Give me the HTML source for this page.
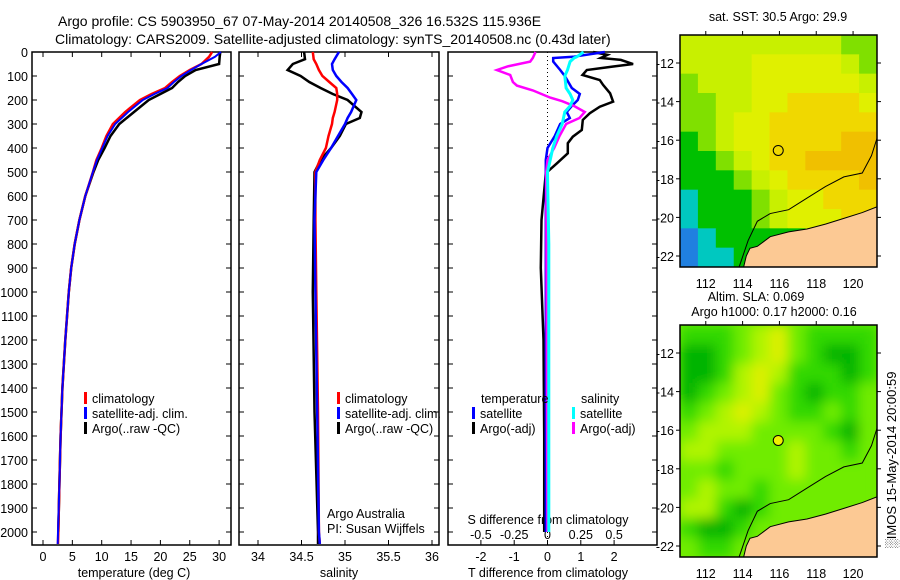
<!DOCTYPE html>
<html><head><meta charset="utf-8"><style>
body{margin:0;background:#fff;}
svg{display:block;font-family:"Liberation Sans",sans-serif;}
</style></head><body>
<svg id="fig" width="900" height="580" viewBox="0 0 900 580" xmlns="http://www.w3.org/2000/svg">
<defs><filter id="blur" x="-5%" y="-5%" width="110%" height="110%"><feGaussianBlur stdDeviation="6"/></filter></defs>
<text x="58" y="26" font-size="14">Argo profile: CS 5903950_67 07-May-2014 20140508_326 16.532S 115.936E</text>
<text x="55" y="44" font-size="14">Climatology: CARS2009. Satellite-adjusted climatology: synTS_20140508.nc (0.43d later)</text>
<g id="g"></g>
</svg>
<script>
// ---- data ----
const depthT = [0,20,50,75,100,125,150,175,200,250,300,350,400,450,500,600,700,800,900,1000,1200,1400,1600,1800,2000,2050];
const tempClim = [28.8,28.3,27,25,23.3,22,20.8,18.5,16.5,14,11.9,10.8,10,9.1,8.5,7.2,6.2,5.4,4.8,4.4,3.8,3.3,3.0,2.8,2.6,2.55];
const tempSat  = [30.3,29.3,27,25.2,23.6,22.3,21.2,19,17,14.5,12.3,11,10.1,9.2,8.5,7.2,6.2,5.4,4.8,4.4,3.8,3.3,3.0,2.8,2.55,2.5];
const tempArgo = [30.2,30.1,30.0,26,24.2,23,22,20,18,15.5,13,11.5,10.5,9.4,8.6,7.2,6.2,5.4,4.8,4.4,3.8,3.3,3.0,2.8,2.6,2.6];
const depthS = [0,30,50,75,100,125,150,175,200,250,275,300,350,400,450,500,700,1000,1500,2000,2050];
const salClim = [34.63,34.64,34.67,34.70,34.74,34.82,34.90,34.91,34.91,34.88,34.86,34.85,34.81,34.78,34.71,34.66,34.66,34.67,34.69,34.70,34.71];
const salSat  = [34.93,34.88,34.85,34.86,34.90,34.96,35.03,35.08,35.13,35.07,35.03,35.0,34.92,34.84,34.75,34.67,34.65,34.66,34.68,34.70,34.71];
const salArgo = [34.53,34.54,34.40,34.34,34.49,34.59,34.72,34.86,35.03,35.19,35.17,35.01,34.94,34.84,34.72,34.65,34.64,34.63,34.65,34.69,34.69];
const depthDT = [0,12,25,33,50,61,75,96,117,137,172,207,228,255,283,325,353,380,422,464,505,700,900,1200,1600,2000];
const dTArgo  = [1.37,1.8,1.6,2.2,2.57,1.95,1.18,1.05,1.57,1.67,1.88,1.97,1.57,1.27,1.06,1.03,0.76,0.61,0.61,0.28,-0.05,-0.18,-0.2,-0.12,-0.1,-0.1];
const depthDs = [0,20,25,40,75,100,150,175,200,225,250,275,300,350,400,450,500,800,1200,1600,2000];
const dTSat   = [1.72,0.77,0.17,0.17,0.38,0.52,0.73,0.97,0.91,0.73,0.58,0.67,0.38,0.22,0.0,-0.05,-0.05,-0.05,-0.05,-0.05,-0.05];
const dSSat   = [0.27,0.22,0.20,0.17,0.15,0.13,0.14,0.17,0.19,0.17,0.13,0.12,0.11,0.07,0.04,0.02,0.0,0.01,0.01,0.01,0.01];
const depthDS = [0,25,40,60,75,96,125,140,160,190,205,225,250,275,300,350,400,450,500,2000];
const dSArgo  = [-0.09,-0.11,-0.13,-0.3,-0.38,-0.28,-0.26,-0.23,-0.11,0.02,0.11,0.2,0.28,0.24,0.14,0.09,0.05,0.0,-0.01,0.0];
const depthTicks = [0,100,200,300,400,500,600,700,800,900,1000,1100,1200,1300,1400,1500,1600,1700,1800,1900,2000];
const tempTicks = [0,5,10,15,20,25,30];
const salTicks = [34,34.5,35,35.5,36];
const dTTicks = [-2,-1,0,1,2];
const dSTicks = [-0.5,-0.25,0,0.25,0.5];
const dSTickLabels = ["-0.5","-0.25","0","0.25","0.5"];
const lonTicks = [112,114,116,118,120];
const latTicks = [-12,-14,-16,-18,-20,-22];
const floatLon = 115.936, floatLat = -16.532;
const sstGrid = [
"44444444433","44445555543","34445555554","33445566665","33455666666","23455666677",
"22345667777","22234566667","12223455666","12223455566","01222224999","01122199999"];
const slaGrid = [
"11123421111","00123421001","00134311101","01234210112","12343211212","23332222102",
"33222232212","22122232222","23221222222","33101222299","10012299999","21129999999"];
const coast = [[114.05,-22.6],[114.2,-22.0],[114.4,-21.6],[114.8,-21.5],[115.5,-21.0],[116.5,-20.75],[117.5,-20.6],[118.5,-20.35],[119.5,-20.05],[120.5,-19.75],[121.3,-19.45],[121.3,-22.6]];
const isobath = [[113.8,-22.6],[114.3,-21.2],[114.8,-20.2],[115.5,-19.8],[116.5,-19.6],[117.5,-19.0],[118.5,-18.4],[119.5,-17.9],[120.5,-17.7],[121.0,-16.8],[121.3,-15.9]];

// ---- drawing ----
const NS="http://www.w3.org/2000/svg", G=document.getElementById('g');
function el(t,a,p){const e=document.createElementNS(NS,t);for(const k in a)e.setAttribute(k,a[k]);(p||G).appendChild(e);return e;}
function txt(x,y,s,anchor,size,p){const e=el('text',{x:x,y:y,'font-size':size||12.5,'text-anchor':anchor||'start'},p);e.textContent=s;return e;}
const yD=d=>52+0.24*d;
const PB=545;
const xT=v=>43+5.87*v, xS=v=>258+87*(v-34), xDT=v=>547.5+33.3*v, xDS=v=>547.5+133.2*v;

function panel(name,x0,x1){
  const r=el('rect',{x:x0,y:52,width:x1-x0,height:PB-52,fill:'none',stroke:'#000','stroke-width':1.5});
  
  
  depthTicks.forEach(d=>{el('line',{x1:x0,x2:x0+5,y1:yD(d),y2:yD(d),stroke:'#000'});el('line',{x1:x1,x2:x1-5,y1:yD(d),y2:yD(d),stroke:'#000'});});
}
function xticks(vals,fx,labels,y,top){
  vals.forEach((v,i)=>{const x=fx(v);el('line',{x1:x,x2:x,y1:PB,y2:PB-5,stroke:'#000'});if(top)el('line',{x1:x,x2:x,y1:52,y2:57,stroke:'#000'});
    const t=txt(x,y,labels?labels[i]:String(v),'middle');
    
    });
}
function line(ds,vs,fx,col,name,w){
  const pts=ds.map((d,i)=>{const x=fx(vs[i]).toFixed(1),y=yD(d).toFixed(1);return x+','+y;});
  const p=el('polyline',{points:pts.join(' '),fill:'none',stroke:col,'stroke-width':w||2.5});
  
  
}
function legend(x,y,col,label){
  el('rect',{x:x,y:y-11,width:3,height:12,fill:col});
  const t=txt(x+8,y,label,'start',12.5);
  
  
}

// panel 1 temperature
panel('temperature-panel',32,231);
depthTicks.forEach(d=>{const t=txt(28,yD(d)+5,String(d),'end');});
xticks(tempTicks,xT,null,561,true);
const t1=txt(134,577,'temperature (deg C)','middle');
line(depthT.slice(0,25),tempArgo.slice(0,25),xT,'#000','argo-temperature-line');
line(depthT,tempClim,xT,'#f00','climatology-temperature-line');
line(depthT,tempSat,xT,'#00f','satellite-temperature-line',2);
legend(84,403,'#f00','climatology');legend(84,418,'#00f','satellite-adj. clim.');legend(84,433,'#000','Argo(..raw -QC)');

// panel 2 salinity
panel('salinity-panel',239,439);
xticks(salTicks,xS,null,561,true);
const t2=txt(339,577,'salinity','middle');
line(depthS,salArgo,xS,'#000','argo-salinity-line');
line(depthS,salClim,xS,'#f00','climatology-salinity-line');
line(depthS,salSat,xS,'#00f','satellite-salinity-line');
legend(337,403,'#f00','climatology');legend(337,418,'#00f','satellite-adj. clim.');legend(337,433,'#000','Argo(..raw -QC)');
txt(327,518,'Argo Australia','start',12.5);txt(327,533,'PI: Susan Wijffels','start',12.5);

// panel 3 differences
panel('difference-panel',448,657);
el('line',{x1:xDT(0),x2:xDT(0),y1:52,y2:PB,stroke:'#000','stroke-dasharray':'1,3'});
xticks(dTTicks,xDT,null,561,false);
dSTicks.forEach((v,i)=>{const t=txt(xDS(v),539,dSTickLabels[i],'middle');});
txt(548,524,'S difference from climatology','middle');
const t3=txt(548,577,'T difference from climatology','middle');
line(depthDT,dTArgo,xDT,'#000','argo-t-diff-line');
line(depthDs,dTSat,xDT,'#00f','satellite-t-diff-line');
line(depthDS,dSArgo,xDS,'#f0f','argo-s-diff-line');
line(depthDs,dSSat,xDS,'#0ff','satellite-s-diff-line',3);
txt(481,403,'temperature','start',12.5);txt(581,403,'salinity','start',12.5);
legend(472,418,'#00f','satellite');legend(472,433,'#000','Argo(-adj)');
legend(572,418,'#0ff','satellite');legend(572,433,'#f0f','Argo(-adj)');

// maps
const MX0=680,MX1=877,LON0=110.6,LON1=121.3;
const mx=l=>MX0+(l-LON0)*(MX1-MX0)/(LON1-LON0);
function map(name,top,lat0y,grid,pal,sst){
  const my=la=>lat0y+(-12-la)*19.3;
  const topLat=-12+(lat0y-top)/19.3, botLat=-12-(top+232-lat0y)/19.3;
  const g=el('g',{});
  el('clipPath',{id:'c'+top},g).appendChild(el('rect',{x:MX0,y:top,width:MX1-MX0,height:232},g));
  const cg=el('g',{'clip-path':'url(#c'+top+')'},g);
  el('rect',{x:MX0,y:top,width:MX1-MX0,height:232,fill:pal[sst?4:2]},cg);
  const cells=el('g',sst?{}:{filter:'url(#blur)'},cg);
  const rows=grid.length, cols=grid[0].length, ch=(topLat-botLat)/rows, cw=(LON1-LON0)/cols;
  grid.forEach((row,r)=>{for(let c=0;c<cols;c++){let v=+row[c];if(v>=9)v=sst?6:2;const x=mx(LON0+c*cw),y=my(topLat-r*ch);
    el('rect',{x:x,y:y,width:mx(LON0+(c+1)*cw)-x+0.5,height:my(topLat-(r+1)*ch)-y+0.5,fill:pal[v]},cells);}});
  el('polygon',{points:coast.map(p=>mx(p[0])+','+my(p[1])).join(' '),fill:'#fcc994',stroke:'#000','stroke-width':1},cg);
  el('polyline',{points:isobath.map(p=>mx(p[0])+','+my(p[1])).join(' '),fill:'none',stroke:'#000','stroke-width':1},cg);
  el('rect',{x:MX0,y:top,width:MX1-MX0,height:232,fill:'none',stroke:'#000','stroke-width':1.5},g);
  lonTicks.forEach(l=>{el('line',{x1:mx(l),x2:mx(l),y1:top,y2:top-4,stroke:'#000'},g);txt(mx(l),top+232+21,String(l),'middle',12.5,g);});
  latTicks.forEach(l=>{el('line',{x1:MX0,x2:MX0-4,y1:my(l),y2:my(l),stroke:'#000'},g);el('line',{x1:MX1,x2:MX1+4,y1:my(l),y2:my(l),stroke:'#000'},g);txt(MX0-6,my(l)+5,String(l),'end',12.5,g);});
  el('circle',{cx:mx(floatLon),cy:my(floatLat),r:5,fill:sst?'none':'#f0f000',stroke:'#000'},g);
  return g;
}
map('sst-map',35,63,sstGrid,['#2080e0','#00c8c0','#00c000','#80e000','#c8f000','#e0f000','#f0d800','#f0c000'],true);
map('sla-map',325,353,slaGrid,['#00b400','#30d800','#70ec00','#b0f400','#dcf000','#f0f000'],false);
txt(778,21,'sat. SST: 30.5 Argo: 29.9','middle',12.5);
txt(756,301,'Altim. SLA: 0.069','middle',12.5);
txt(774,316,'Argo h1000: 0.17 h2000: 0.16','middle',12.5);
const rt=txt(0,0,'\u2591IMOS 15-May-2014 20:00:59','middle',13);
rt.setAttribute('transform','translate(896,460) rotate(-90)');


</script>
</body></html>
